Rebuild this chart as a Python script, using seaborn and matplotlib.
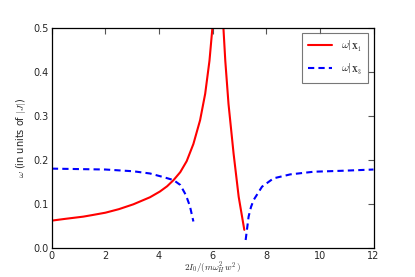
import matplotlib
matplotlib.use("Agg")
import matplotlib.pyplot as plt
import seaborn as sns

# valeurs
red_left_x = [0.0, 0.5, 1.17, 1.5, 2.0, 2.5, 3.04, 3.66, 4.03, 4.3, 4.54, 4.79, 5.03, 5.28, 5.53, 5.72, 5.88, 5.99, 6.05]
red_left_y = [0.062, 0.066, 0.071, 0.0745, 0.080, 0.088, 0.099, 0.115, 0.128, 0.140, 0.154, 0.172, 0.197, 0.236, 0.290, 0.350, 0.425, 0.500, 0.560]

red_right_x = [6.38, 6.40, 6.47, 6.59, 6.78, 6.97, 7.18]
red_right_y = [0.560, 0.500, 0.425, 0.327, 0.214, 0.116, 0.041]

blue_left_x = [0.0, 1.0, 2.0, 3.04, 3.66, 4.15, 4.54, 4.79, 5.0, 5.15, 5.28]
blue_left_y = [0.180, 0.179, 0.178, 0.174, 0.169, 0.161, 0.154, 0.143, 0.120, 0.095, 0.060]

blue_right_x = [7.23, 7.34, 7.43, 7.53, 7.84, 8.27, 8.9, 9.77, 10.77, 12.0]
blue_right_y = [0.018, 0.071, 0.093, 0.109, 0.139, 0.158, 0.167, 0.173, 0.175, 0.178]

x_ticks = [0, 2, 4, 6, 8, 10, 12]
y_ticks = [0.0, 0.1, 0.2, 0.3, 0.4, 0.5]

sns.set_style("white")
plt.rcParams["font.family"] = ["DejaVu Sans"]
plt.rcParams["mathtext.fontset"] = "cm"

fig, ax = plt.subplots(figsize=(4.15, 2.77), dpi=100)
fig.subplots_adjust(left=0.125, right=0.9, bottom=0.105, top=0.9)

sns.lineplot(x=red_left_x, y=red_left_y, ax=ax, color="red", lw=1.5,
             label=r"$\omega|_{\mathbf{X}_1}$", sort=False)
sns.lineplot(x=red_right_x, y=red_right_y, ax=ax, color="red", lw=1.5, sort=False)
sns.lineplot(x=blue_left_x, y=blue_left_y, ax=ax, color="blue", lw=1.5,
             linestyle=(0, (3, 2)), label=r"$\omega|_{\mathbf{X}_3}$", sort=False)
sns.lineplot(x=blue_right_x, y=blue_right_y, ax=ax, color="blue", lw=1.5,
             linestyle=(0, (3, 2)), sort=False)

ax.set_xlim(0, 12)
ax.set_ylim(0, 0.5)
ax.set_xticks(x_ticks)
ax.set_yticks(y_ticks)
ax.tick_params(direction="in", length=4, width=0.8, top=True, right=True,
               labelsize=7, pad=2, color="#555555")
for s in ax.spines.values():
    s.set_color("black")
    s.set_linewidth(0.9)

ax.set_xlabel(r"$2I_0/(m\omega_H^2\,w^2\,)$", fontsize=6.5)
ax.xaxis.set_label_coords(0.5, -0.058)
ax.set_ylabel(r"$\omega$ (in units of $|J|$)", fontsize=7)
ax.yaxis.set_label_coords(-0.075, 0.5)

leg = ax.legend(loc="upper right", fontsize=8, fancybox=False, frameon=True,
                handlelength=2.2, borderaxespad=0.5, borderpad=0.5,
                labelspacing=0.7)
leg.get_frame().set_edgecolor("#555555")
leg.get_frame().set_linewidth(0.8)

fig.savefig("out.png", dpi=100)
